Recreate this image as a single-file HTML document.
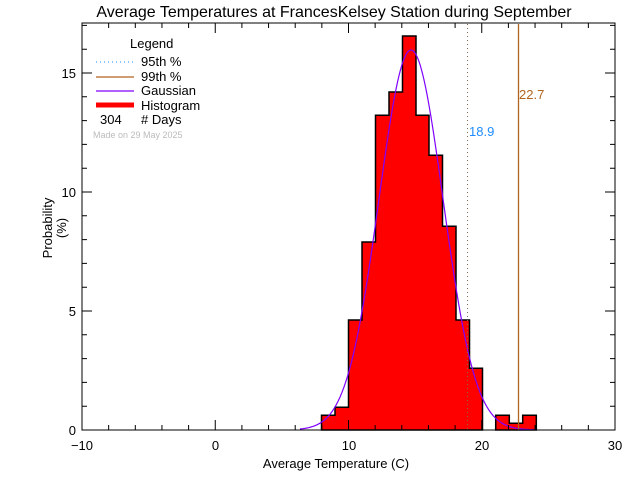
<!DOCTYPE html>
<html><head><style>body{margin:0;background:#fff}svg{display:block}text{font-family:"Liberation Sans",sans-serif}</style></head><body>
<svg width="640" height="480" xmlns="http://www.w3.org/2000/svg">
<rect width="640" height="480" fill="#fff"/>
<text x="334" y="17" font-size="16" text-anchor="middle">Average Temperatures at FrancesKelsey Station during September</text>
<g id="bars" fill="#f00" stroke="#000" stroke-width="1.5">
<path d="M321.5,430 V415.3 H335 V407.3 H348.5 V320 H362 V242 H375.5 V115.3 H389 V92 H402.5 V36 H416 V115.3 H429 V155.3 H442.5 V226.3 H456 V320 H469.5 V368.3 H482.5 V430 Z"/>
<path d="M495.7,430 V415.3 H509.3 V423.3 H522.7 V415.3 H536.3 V430 Z"/>
</g>
<polyline id="g" fill="none" stroke="#8000ff" stroke-width="1.2" points=""/>
<line x1="467.5" y1="24" x2="467.5" y2="430" stroke="#8a6a50" stroke-dasharray="1,3"/>
<line x1="518.5" y1="24" x2="518.5" y2="430" stroke="#b0641e" stroke-width="1.3"/>
<text x="469" y="136" font-size="13" fill="#1e8cff">18.9</text>
<text x="519" y="99" font-size="13" fill="#b0641e">22.7</text>
<rect x="82" y="23" width="533" height="407" fill="none" stroke="#000"/>
<path id="ticks" stroke="#000" fill="none" d=""/>
<g font-size="13" text-anchor="middle">
<text x="82" y="450">−10</text><text x="215.5" y="450">0</text><text x="349" y="450">10</text><text x="482" y="450">20</text><text x="615" y="450">30</text>
<text x="336" y="468">Average Temperature (C)</text>
</g>
<g font-size="13" text-anchor="end">
<text x="76" y="435">0</text><text x="76" y="316">5</text><text x="76" y="197">10</text><text x="76" y="78">15</text>
</g>
<text transform="translate(52,228) rotate(-90)" font-size="13" text-anchor="middle">Probability</text>
<text transform="translate(66,228) rotate(-90)" font-size="13" text-anchor="middle">(%)</text>
<g font-size="13">
<text x="130" y="48">Legend</text>
<line x1="96" y1="62" x2="134" y2="62" stroke="#1e8cff" stroke-dasharray="1,3"/>
<text x="141" y="66">95th %</text>
<line x1="96" y1="77" x2="134" y2="77" stroke="#b0641e" stroke-width="1.3"/>
<text x="141" y="81">99th %</text>
<line x1="96" y1="91" x2="134" y2="91" stroke="#8000ff" stroke-width="1.3"/>
<text x="141" y="95">Gaussian</text>
<line x1="96" y1="105" x2="134" y2="105" stroke="#f00" stroke-width="5"/>
<text x="141" y="110">Histogram</text>
<text x="100" y="124">304</text>
<text x="141" y="124"># Days</text>
<text x="93" y="138" font-size="9" fill="#bbb">Made on 29 May 2025</text>
</g>
<script>
var p=[];for(var x=300;x<=536;x+=1){var y=430-380*Math.exp(-Math.pow(x-411,2)/(2*32.1*32.1));p.push(x+','+y.toFixed(1));}
document.getElementById('g').setAttribute('points',p.join(' '));
var d='';for(var i=0;i<=20;i++){var x=(82+i*533/20).toFixed(2);var L=(i%5==0)?10:5;d+='M'+x+',430V'+(430-L)+'M'+x+',23V'+(23+L);}
for(var v=0;v<=17;v++){var y=(430-v*23.8).toFixed(2);var L=(v%5==0)?10:5;d+='M82,'+y+'H'+(82+L)+'M615,'+y+'H'+(615-L);}
document.getElementById('ticks').setAttribute('d',d);
</script>
</svg>
</body></html>
